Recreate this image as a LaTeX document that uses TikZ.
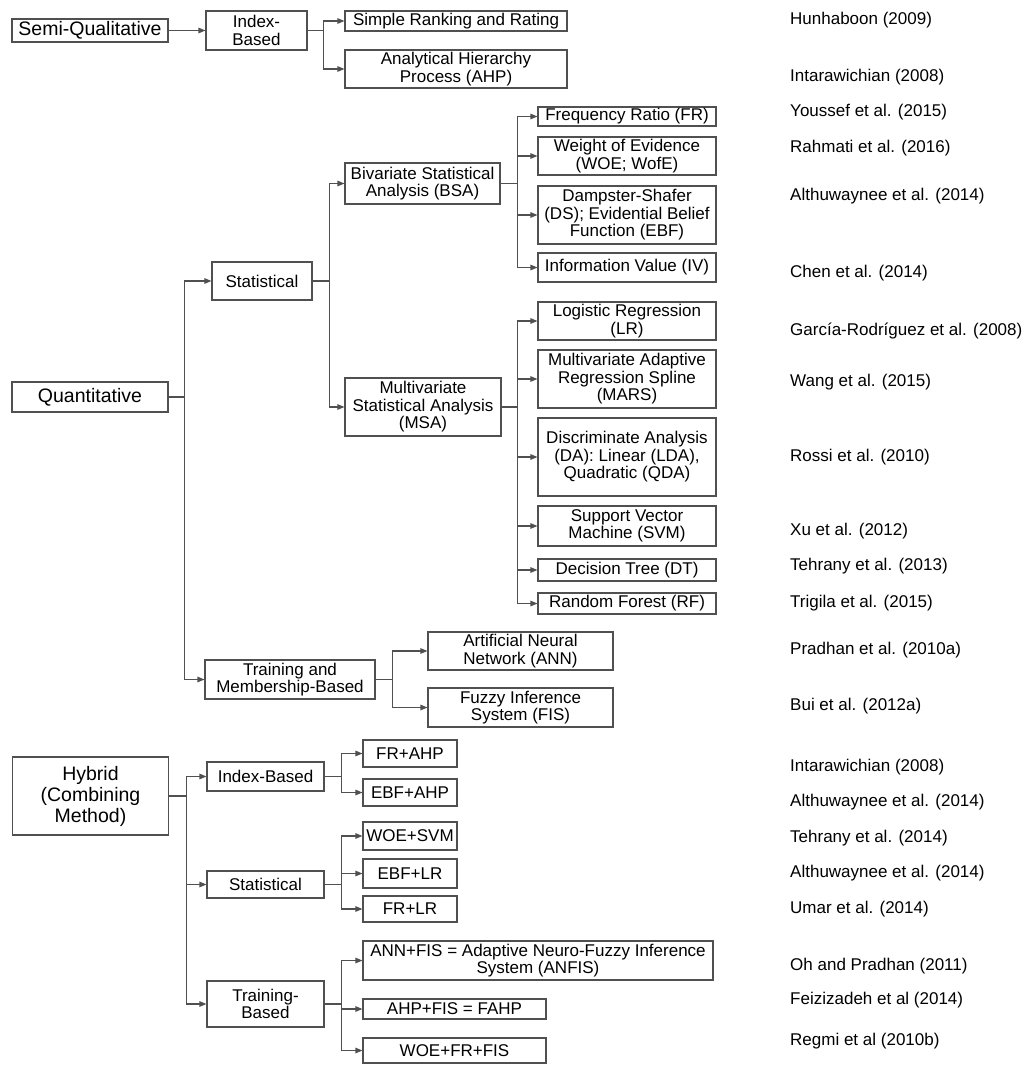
\documentclass[tikz,border=0pt]{standalone}
\usepackage{fontspec}
\setmainfont{Liberation Sans}
\usetikzlibrary{arrows.meta}

\definecolor{linegray}{RGB}{80,80,80}

\tikzset{
  box/.style={draw=linegray, line width=1.1pt, align=center, inner sep=0pt,
    font=\fontsize{17}{17.5}\selectfont},
  topbox/.style={box, minimum width=156pt, font=\fontsize{19.5}{21}\selectfont},
  leaf/.style={box, minimum width=178pt},
  combo/.style={box, minimum width=94pt},
  link/.style={draw=linegray, line width=1.1pt, -{Triangle[length=7pt,width=5.5pt]}},
  cite/.style={anchor=west, inner sep=0pt, font=\fontsize{17}{17.5}\selectfont}
}

\begin{document}
\begin{tikzpicture}[x=1pt, y=-1pt]
  \useasboundingbox (0,0) rectangle (1026,1065);

  % semi-qualitative
  \node[topbox, minimum height=23pt] (semi) at (90,30.5) {Semi-Qualitative};
  \node[box, minimum width=101pt, minimum height=39pt] (semiidx) at (256.5,30.5) {Index-\\Based};
  \node[box, minimum width=222pt, minimum height=20pt] (rank) at (456,21) {Simple Ranking and Rating};
  \node[box, minimum width=222pt, minimum height=38pt] (ahp) at (456,69) {Analytical Hierarchy\\Process (AHP)};

  % quantitative
  \node[topbox, minimum height=30pt] (quant) at (90,397) {Quantitative};
  \node[box, minimum width=100pt, minimum height=38pt] (stat) at (262,281) {Statistical};
  \node[box, minimum width=170pt, minimum height=39pt] (train) at (290,679.5) {Training and\\Membership-Based};
  \node[box, minimum width=155pt, minimum height=41pt] (bsa) at (422.5,183.5) {Bivariate Statistical\\Analysis (BSA)};
  \node[box, minimum width=156pt, minimum height=58pt] (msa) at (423,407) {Multivariate\\Statistical Analysis\\(MSA)};

  \node[leaf, minimum height=19pt] (fr) at (627,116.5) {Frequency Ratio (FR)};
  \node[leaf, minimum height=38pt] (woe) at (627,156) {Weight of Evidence\\(WOE; WofE)};
  \node[leaf, minimum height=58pt] (ds) at (627,215) {Dampster-Shafer\\(DS); Evidential Belief\\Function (EBF)};
  \node[leaf, minimum height=29pt] (iv) at (627,267.5) {Information Value (IV)};

  \node[leaf, minimum height=38pt] (lr) at (627,321) {Logistic Regression\\(LR)};
  \node[leaf, minimum height=58pt] (mars) at (627,379) {Multivariate Adaptive\\Regression Spline\\(MARS)};
  \node[leaf, minimum height=78pt] (da) at (627,457) {Discriminate Analysis\\(DA): Linear (LDA),\\Quadratic (QDA)};
  \node[leaf, minimum height=40pt] (svm) at (627,526) {Support Vector\\Machine (SVM)};
  \node[leaf, minimum height=22pt] (dt) at (627,570) {Decision Tree (DT)};
  \node[leaf, minimum height=21pt] (rf) at (627,603.5) {Random Forest (RF)};

  \node[box, minimum width=185pt, minimum height=38pt] (ann) at (520.5,651) {Artificial Neural\\Network (ANN)};
  \node[box, minimum width=185pt, minimum height=39pt] (fis) at (520.5,707.5) {Fuzzy Inference\\System (FIS)};

  % hybrid
  \node[topbox, minimum height=78pt] (hyb) at (90.5,796) {Hybrid\\(Combining\\Method)};
  \node[box, minimum width=117pt, minimum height=29pt] (hidx) at (265.5,776.5) {Index-Based};
  \node[box, minimum width=117pt, minimum height=27pt] (hstat) at (265.5,884.5) {Statistical};
  \node[box, minimum width=117pt, minimum height=46pt] (htrain) at (265.5,1004) {Training-\\Based};

  \node[combo, minimum height=27pt] (frahp) at (410,753.5) {FR+AHP};
  \node[combo, minimum height=27pt] (ebfahp) at (410,792.5) {EBF+AHP};
  \node[combo, minimum height=28pt] (woesvm) at (410,836) {WOE+SVM};
  \node[combo, minimum height=29pt] (ebflr) at (410,873.5) {EBF+LR};
  \node[combo, minimum height=26pt] (frlr) at (410,909) {FR+LR};
  \node[box, minimum width=350pt, minimum height=39pt] (anfis) at (538,960.5) {ANN+FIS = Adaptive Neuro-Fuzzy Inference\\System (ANFIS)};
  \node[box, minimum width=183pt, minimum height=20pt] (ahpfis) at (454.5,1009) {AHP+FIS = FAHP};
  \node[box, minimum width=183pt, minimum height=25pt] (wfrfis) at (454.5,1050.5) {WOE+FR+FIS};

  % connectors
  \draw[link] (semi.east) -- (semiidx.west);
  \foreach \c in {rank,ahp} \draw[link] (semiidx.east) -- ++(16,0) |- (\c.west);
  \foreach \c in {stat,train} \draw[link] (quant.east) -- ++(16,0) |- (\c.west);
  \foreach \c in {bsa,msa} \draw[link] (stat.east) -- ++(17,0) |- (\c.west);
  \foreach \c in {fr,woe,ds,iv} \draw[link] (bsa.east) -- ++(17,0) |- (\c.west);
  \foreach \c in {lr,mars,da,svm,dt,rf} \draw[link] (msa.east) -- ++(16,0) |- (\c.west);
  \foreach \c in {ann,fis} \draw[link] (train.east) -- ++(17,0) |- (\c.west);
  \foreach \c in {hidx,hstat,htrain} \draw[link] (hyb.east) -- ++(17,0) |- (\c.west);
  \foreach \c in {frahp,ebfahp} \draw[link] (hidx.east) -- ++(17,0) |- (\c.west);
  \foreach \c in {woesvm,ebflr,frlr} \draw[link] (hstat.east) -- ++(17,0) |- (\c.west);
  \foreach \c in {anfis,ahpfis,wfrfis} \draw[link] (htrain.east) -- ++(17,0) |- (\c.west);

  % references
  \foreach \y/\t [count=\i] in {
      20/Hunhaboon (2009), 77/Intarawichian (2008), 112/Youssef et al. (2015),
      148/Rahmati et al. (2016), 196/Althuwaynee et al. (2014), 273/Chen et al. (2014),
      331/García-Rodríguez et al. (2008), 382/Wang et al. (2015), 457/Rossi et al. (2010),
      531/Xu et al. (2012), 566/Tehrany et al. (2013), 603/Trigila et al. (2015),
      650/Pradhan et al. (2010a), 706/Bui et al. (2012a), 767/Intarawichian (2008),
      802/Althuwaynee et al. (2014), 838/Tehrany et al. (2014), 873/Althuwaynee et al. (2014),
      909/Umar et al. (2014), 966/Oh and Pradhan (2011), 1000/Feizizadeh et al (2014),
      1041/Regmi et al (2010b)}
    \node[cite] (ref\i) at (790,\y) {\t};
\end{tikzpicture}
\end{document}
